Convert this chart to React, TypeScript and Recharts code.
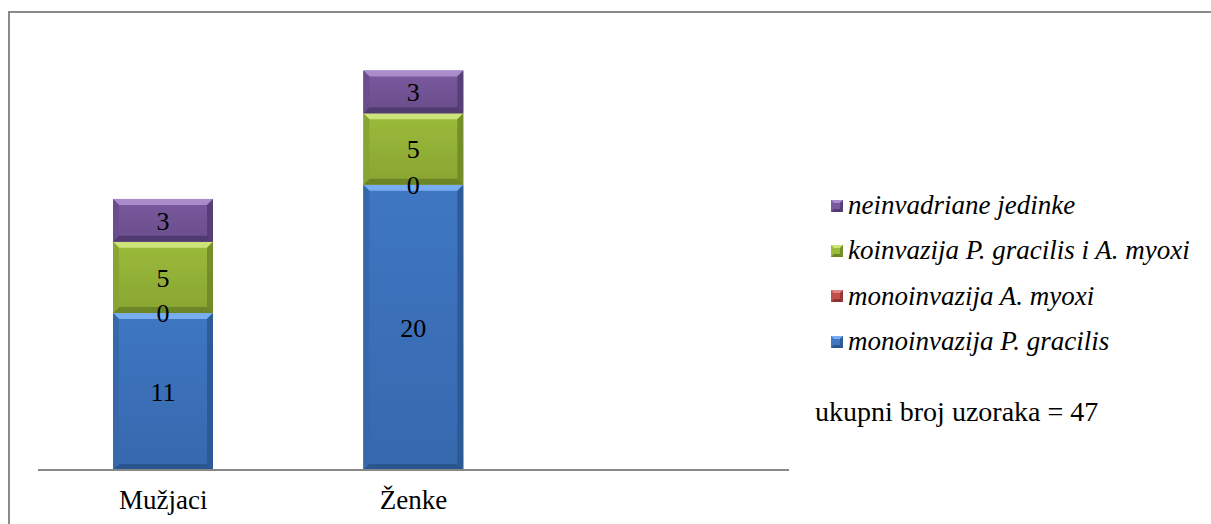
import { BarChart, Bar, XAxis, YAxis, LabelList } from "recharts";

const categories = ["Mužjaci", "Ženke", ""];
const pGracilis = [11, 20, null];
const aMyoxi = [0, 0, null];
const koinvazija = [5, 5, null];
const neinvadirane = [3, 3, null];

const seriesNames = [
  "monoinvazija P. gracilis",
  "monoinvazija A. myoxi",
  "koinvazija P. gracilis i A. myoxi",
  "neinvadriane jedinke",
];

const TOTAL_TEXT = "ukupni broj uzoraka = 47";

type Pal = { main: string; light: string; dark: string; side: string };

const PAL: Record<string, Pal> = {
  blue: { main: "#3f77c3", light: "#78aef0", dark: "#2a558f", side: "#3668ad" },
  red: { main: "#c0504d", light: "#e08582", dark: "#8c3230", side: "#a8413f" },
  green: { main: "#9bbb3b", light: "#cde47a", dark: "#6c8526", side: "#88a532" },
  purple: { main: "#7a5a9e", light: "#a98cc9", dark: "#513a70", side: "#6a4d8c" },
};

const seriesKeys = ["pGracilis", "aMyoxi", "koinvazija", "neinvadirane"];
const seriesPal = [PAL.blue, PAL.red, PAL.green, PAL.purple];

const data = categories.map((name, i) => ({
  name,
  pGracilis: pGracilis[i],
  aMyoxi: aMyoxi[i],
  koinvazija: koinvazija[i],
  neinvadirane: neinvadirane[i],
}));

const FONT = "'Liberation Serif', serif";

function BevelBar(props: any) {
  const { x, y, width, height, pal } = props;
  if (!height || height <= 0 || x == null) return null;
  const w = width;
  const h = height;
  const b = Math.min(6, h / 2);
  const id = `g-${pal.main.slice(1)}`;
  return (
    <g>
      <defs>
        <linearGradient id={id} x1="0" y1="0" x2="0" y2="1">
          <stop offset="0" stopColor={pal.main} stopOpacity={1} />
          <stop offset="1" stopColor={pal.side} stopOpacity={1} />
        </linearGradient>
      </defs>
      <rect x={x} y={y} width={w} height={h} fill={`url(#${id})`} />
      <polygon
        points={`${x},${y} ${x + w},${y} ${x + w - b},${y + b} ${x + b},${y + b}`}
        fill={pal.light}
      />
      <polygon
        points={`${x},${y + h} ${x + w},${y + h} ${x + w - b},${y + h - b} ${x + b},${y + h - b}`}
        fill={pal.dark}
      />
      <polygon
        points={`${x},${y} ${x + b},${y + b} ${x + b},${y + h - b} ${x},${y + h}`}
        fill={pal.side}
      />
      <polygon
        points={`${x + w},${y} ${x + w - b},${y + b} ${x + w - b},${y + h - b} ${x + w},${y + h}`}
        fill={pal.dark}
        opacity={0.8}
      />
    </g>
  );
}

function CatTick(props: any) {
  const { x, payload } = props;
  return (
    <text x={x} y={509} textAnchor="middle" style={{ fontFamily: FONT }} fontSize={27} fill="#000">
      {payload.value}
    </text>
  );
}

function LegendMark({ pal }: { pal: Pal }) {
  return (
    <svg width={12} height={12} style={{ display: "block", flex: "none" }}>
      <rect x={0} y={0} width={12} height={12} fill={pal.main} />
      <polygon points="0,0 12,0 9,3 3,3" fill={pal.light} />
      <polygon points="0,12 12,12 9,9 3,9" fill={pal.dark} />
      <polygon points="12,0 9,3 9,9 12,12" fill={pal.dark} opacity={0.8} />
    </svg>
  );
}

export default function App() {
  const legendOrder = [3, 2, 1, 0];
  return (
    <div
      style={{
        position: "absolute",
        left: 0,
        top: 0,
        width: 1211,
        height: 524,
        overflow: "hidden",
        background: "#fff",
      }}
    >
      <div
        style={{
          position: "absolute",
          left: 8,
          top: 11,
          width: 1300,
          height: 600,
          borderTop: "2px solid #8a8a8a",
          borderLeft: "2px solid #8a8a8a",
        }}
      />
      <div style={{ position: "absolute", left: 0, top: 0 }}>
        <BarChart
          width={800}
          height={524}
          data={data}
          margin={{ top: 42, right: 11, bottom: 14, left: 38 }}
          style={{ fontFamily: FONT }}
        >
          <YAxis hide domain={[0, 30]} />
          <XAxis
            dataKey="name"
            height={40}
            tickLine={false}
            tickSize={0}
            axisLine={{ stroke: "#888888", strokeWidth: 2 }}
            tick={<CatTick />}
            interval={0}
          />
          {seriesKeys.map((k, i) => (
            <Bar
              key={k}
              dataKey={k}
              name={seriesNames[i]}
              stackId="a"
              barSize={100}
              fill={seriesPal[i].main}
              isAnimationActive={false}
              shape={(p: any) => <BevelBar {...p} pal={seriesPal[i]} />}
            >
              <LabelList
                dataKey={k}
                position="center"
                fill="#000"
                style={{ fontFamily: FONT }}
                fontSize={26}
              />
            </Bar>
          ))}
        </BarChart>
      </div>
      <div style={{ position: "absolute", left: 831, top: 183, fontFamily: FONT }}>
        {legendOrder.map((i) => (
          <div key={i} style={{ display: "flex", alignItems: "center", height: 45.3 }}>
            <LegendMark pal={seriesPal[i]} />
            <span
              style={{
                fontStyle: "italic",
                fontSize: 27,
                marginLeft: 5,
                color: "#000",
                whiteSpace: "nowrap",
              }}
            >
              {seriesNames[i]}
            </span>
          </div>
        ))}
      </div>
      <div
        style={{
          position: "absolute",
          left: 815,
          top: 395,
          fontFamily: FONT,
          fontSize: 28,
          lineHeight: "34px",
          color: "#000",
          whiteSpace: "nowrap",
        }}
      >
        {TOTAL_TEXT}
      </div>
    </div>
  );
}
